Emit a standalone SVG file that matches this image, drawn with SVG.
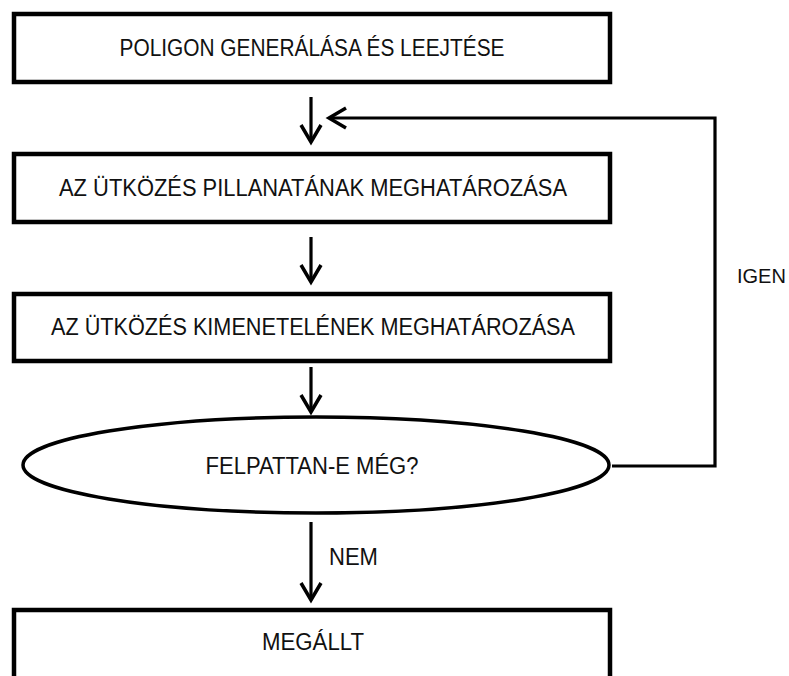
<svg xmlns="http://www.w3.org/2000/svg" width="789" height="676" viewBox="0 0 789 676">
  <style>
    .box { fill: #ffffff; stroke: #000000; stroke-width: 4.5; }
    .ell { fill: #ffffff; stroke: #000000; stroke-width: 3.5; }
    .lbl { font-family: "Liberation Sans", Arial, sans-serif; font-size: 23px; fill: #111111; text-anchor: middle; }
    .edge-lbl { font-family: "Liberation Sans", Arial, sans-serif; font-size: 23px; fill: #111111; }
    .conn { fill: none; stroke: #000000; stroke-width: 3.2; }
  </style>
  <defs>
    <marker id="arrow" viewBox="-20 -12 24 24" refX="0" refY="0" markerWidth="24" markerHeight="24" markerUnits="userSpaceOnUse" orient="auto" overflow="visible">
      <path d="M-17,-10 L0,0 L-17,10" fill="none" stroke="#000000" stroke-width="3.5" stroke-linejoin="miter"/>
    </marker>
  </defs>
  <rect width="789" height="676" fill="#ffffff"/>

  <g id="connectors">
    <line class="conn" x1="311" y1="97" x2="311" y2="142" marker-end="url(#arrow)"/>
    <line class="conn" x1="311" y1="237" x2="311" y2="282" marker-end="url(#arrow)"/>
    <line class="conn" x1="311" y1="367" x2="311" y2="412" marker-end="url(#arrow)"/>
    <line class="conn" x1="311" y1="522" x2="311" y2="600" marker-end="url(#arrow)"/>
    <polyline class="conn" points="612,466 715,466 715,118 329,118" marker-end="url(#arrow)"/>
    <text class="edge-lbl" x="329" y="565" textLength="49" lengthAdjust="spacingAndGlyphs">NEM</text>
    <text class="edge-lbl" x="737" y="283" style="font-size:20px">IGEN</text>
  </g>

  <g id="node-poligon">
    <rect class="box" x="14" y="14" width="596" height="68"/>
    <text class="lbl" x="312" y="56" textLength="385" lengthAdjust="spacingAndGlyphs">POLIGON GENERÁLÁSA ÉS LEEJTÉSE</text>
  </g>

  <g id="node-pillanat">
    <rect class="box" x="14" y="154" width="596" height="68"/>
    <text class="lbl" x="313" y="196" textLength="508" lengthAdjust="spacingAndGlyphs">AZ ÜTKÖZÉS PILLANATÁNAK MEGHATÁROZÁSA</text>
  </g>

  <g id="node-kimenetel">
    <rect class="box" x="14" y="294" width="596" height="67"/>
    <text class="lbl" x="313" y="335" textLength="524" lengthAdjust="spacingAndGlyphs">AZ ÜTKÖZÉS KIMENETELÉNEK MEGHATÁROZÁSA</text>
  </g>

  <g id="node-felpattan">
    <ellipse class="ell" cx="316" cy="465" rx="293" ry="48"/>
    <text class="lbl" x="312" y="474" textLength="213" lengthAdjust="spacingAndGlyphs">FELPATTAN-E MÉG?</text>
  </g>

  <g id="node-megallt">
    <rect class="box" x="14" y="610" width="596" height="100"/>
    <text class="lbl" x="313" y="650" textLength="102" lengthAdjust="spacingAndGlyphs">MEGÁLLT</text>
  </g>
</svg>
